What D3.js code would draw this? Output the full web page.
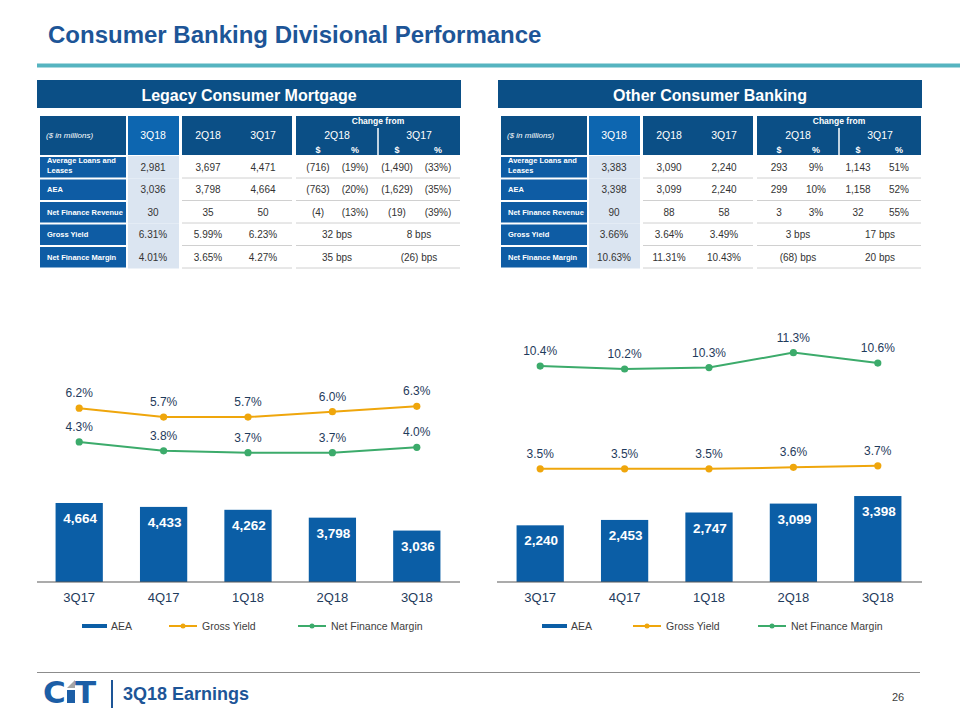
<!DOCTYPE html>
<html>
<head>
<meta charset="utf-8">
<script src="https://cdn.jsdelivr.net/npm/d3@7"></script>
<style>
  body { margin: 0; background: #fff; }
  svg { display: block; font-family: "Liberation Sans", Arial, sans-serif; }
</style>
</head>
<body>
<svg id="chart" width="960" height="720"></svg>
<script>
// ---------- DATA ----------
const quarters = ["3Q17", "4Q17", "1Q18", "2Q18", "3Q18"];

const lcmAEA = [4664, 4433, 4262, 3798, 3036];
const lcmGrossYield = [6.2, 5.7, 5.7, 6.0, 6.3];
const lcmNFM = [4.3, 3.8, 3.7, 3.7, 4.0];

const ocbAEA = [2240, 2453, 2747, 3099, 3398];
const ocbGrossYield = [3.5, 3.5, 3.5, 3.6, 3.7];
const ocbNFM = [10.4, 10.2, 10.3, 11.3, 10.6];

const tableHeaders = ["3Q18", "2Q18", "3Q17"];
const changeHeaders = ["2Q18", "3Q17"];
const tableRowLabels = [["Average Loans and", "Leases"], ["AEA"], ["Net Finance Revenue"], ["Gross Yield"], ["Net Finance Margin"]];

const lcmTable = [
  ["2,981", "3,697", "4,471", "(716)", "(19%)", "(1,490)", "(33%)"],
  ["3,036", "3,798", "4,664", "(763)", "(20%)", "(1,629)", "(35%)"],
  ["30", "35", "50", "(4)", "(13%)", "(19)", "(39%)"],
  ["6.31%", "5.99%", "6.23%", "32 bps", "8 bps"],
  ["4.01%", "3.65%", "4.27%", "35 bps", "(26) bps"]
];
const ocbTable = [
  ["3,383", "3,090", "2,240", "293", "9%", "1,143", "51%"],
  ["3,398", "3,099", "2,240", "299", "10%", "1,158", "52%"],
  ["90", "88", "58", "3", "3%", "32", "55%"],
  ["3.66%", "3.64%", "3.49%", "3 bps", "17 bps"],
  ["10.63%", "11.31%", "10.43%", "(68) bps", "20 bps"]
];

// ---------- STYLE ----------
const C = {
  title: "#1d5597",
  teal: "#56b4c0",
  banner: "#0b4f86",
  header: "#0b4f86",
  header3Q18: "#0d66b0",
  rowLabel: "#0e5ca4",
  lightCol: "#dbe5f1",
  rule: "#d0d0d0",
  cellText: "#333333",
  bar: "#0b5ea6",
  gy: "#efa60c",
  nfm: "#3cab6b",
  axisText: "#1f3b5c",
  axis: "#595959",
  legendText: "#404040"
};

const svg = d3.select("#chart");
svg.append("rect").attr("width", 960).attr("height", 720).attr("fill", "#fff");

// Title and teal rule
svg.append("text").attr("x", 48).attr("y", 43)
  .attr("font-size", 24).attr("font-weight", "bold").attr("fill", C.title)
  .text("Consumer Banking Divisional Performance");
svg.append("rect").attr("x", 37).attr("y", 63.5).attr("width", 923).attr("height", 4).attr("fill", C.teal);

// ---------- TABLES ----------
function drawTable(ox, title, rows) {
  const g = svg.append("g").attr("transform", `translate(${ox},0)`);
  g.append("rect").attr("x", 37).attr("y", 80).attr("width", 424).attr("height", 28).attr("fill", C.banner);
  g.append("text").attr("x", 249).attr("y", 101).attr("text-anchor", "middle")
    .attr("font-size", 16).attr("font-weight", "bold").attr("fill", "#fff").text(title);

  // header blocks
  g.append("rect").attr("x", 40).attr("y", 116).attr("width", 86).attr("height", 39).attr("fill", C.header);
  g.append("rect").attr("x", 128).attr("y", 116).attr("width", 51).attr("height", 39).attr("fill", C.header3Q18);
  g.append("rect").attr("x", 182).attr("y", 116).attr("width", 110).attr("height", 39).attr("fill", C.header);
  g.append("rect").attr("x", 296).attr("y", 116).attr("width", 164).attr("height", 39).attr("fill", C.header);
  g.append("line").attr("x1", 378).attr("x2", 378).attr("y1", 128).attr("y2", 155)
    .attr("stroke", "#fff").attr("stroke-width", 1.5);

  g.append("text").attr("x", 46).attr("y", 138).attr("font-size", 8).attr("font-style", "italic")
    .attr("fill", "#fff").text("($ in millions)");
  const hx = [153, 208, 263];
  tableHeaders.forEach((h, i) => g.append("text").attr("x", hx[i]).attr("y", 139)
    .attr("text-anchor", "middle").attr("font-size", 10.5).attr("fill", "#fff").text(h));
  g.append("text").attr("x", 378).attr("y", 124).attr("text-anchor", "middle")
    .attr("font-size", 8.5).attr("font-weight", "bold").attr("fill", "#fff").text("Change from");
  const chx = [337, 419];
  changeHeaders.forEach((h, i) => g.append("text").attr("x", chx[i]).attr("y", 139)
    .attr("text-anchor", "middle").attr("font-size", 10.5).attr("fill", "#fff").text(h));
  [[318, "$"], [355, "%"], [397, "$"], [438, "%"]].forEach(([x, t]) =>
    g.append("text").attr("x", x).attr("y", 153).attr("text-anchor", "middle")
      .attr("font-size", 9).attr("font-weight", "bold").attr("fill", "#fff").text(t));

  const colX = [153, 208, 263, 318, 355, 397, 438];
  const bpsX = [153, 208, 263, 337, 419];
  rows.forEach((r, i) => {
    const top = 157 + i * 22.5, h = 20.5, cy = top + h / 2;
    g.append("rect").attr("x", 40).attr("y", top).attr("width", 86).attr("height", h).attr("fill", C.rowLabel);
    g.append("rect").attr("x", 128).attr("y", top - 1).attr("width", 51).attr("height", h + 2).attr("fill", C.lightCol);
    [[182, 292], [296, 460]].forEach(([a, b]) =>
      g.append("line").attr("x1", a).attr("x2", b).attr("y1", top + h + 0.5).attr("y2", top + h + 0.5)
        .attr("stroke", C.rule).attr("stroke-width", 1));
    const lbl = tableRowLabels[i];
    lbl.forEach((l, j) => g.append("text").attr("x", 47)
      .attr("y", lbl.length === 1 ? cy + 2.5 : cy - 2.5 + (j * 10) - 2)
      .attr("font-size", 7.5).attr("font-weight", "bold").attr("fill", "#fff").text(l));
    const xs = r.length === 7 ? colX : bpsX;
    r.forEach((v, k) => g.append("text").attr("x", xs[k]).attr("y", cy + 3.5)
      .attr("text-anchor", "middle").attr("font-size", 10).attr("fill", C.cellText).text(v));
  });
}
drawTable(0, "Legacy Consumer Mortgage", lcmTable);
drawTable(461, "Other Consumer Banking", ocbTable);

// ---------- CHARTS ----------
function drawChart(cfg) {
  const g = svg.append("g");
  const x = d3.scaleBand().domain(quarters).range(cfg.xRange).paddingInner(0.44).paddingOuter(0.22);
  const yBar = d3.scaleLinear().domain(cfg.barDomain).range([582, cfg.barTop]);
  const yLine = d3.scaleLinear().domain(cfg.lineDomain).range(cfg.lineRange);
  const cx = q => x(q) + x.bandwidth() / 2;

  // bars
  g.selectAll(".bar").data(cfg.bars).join("rect")
    .attr("x", (d, i) => x(quarters[i])).attr("width", x.bandwidth())
    .attr("y", d => yBar(d)).attr("height", d => yBar(0) - yBar(d)).attr("fill", C.bar);
  g.selectAll(".barlbl").data(cfg.bars).join("text")
    .attr("x", (d, i) => cx(quarters[i]) + 1).attr("y", d => yBar(d) + 20)
    .attr("text-anchor", "middle").attr("font-size", 13.5).attr("font-weight", "bold")
    .attr("fill", "#fff").text(d => d3.format(",")(d));

  // axis
  const axis = d3.axisBottom(x).tickSize(0).tickPadding(11);
  const ag = g.append("g").attr("transform", "translate(0,582)").call(axis);
  ag.select(".domain").attr("stroke", C.axis).attr("stroke-width", 1.2)
    .attr("d", `M${cfg.axisRange[0]},0H${cfg.axisRange[1]}`);
  ag.selectAll("text").attr("font-size", 13).attr("fill", C.axisText)
    .attr("font-family", "Liberation Sans, Arial, sans-serif");

  // lines
  [[cfg.gy, C.gy], [cfg.nfm, C.nfm]].forEach(([vals, col]) => {
    const line = d3.line().x((d, i) => cx(quarters[i])).y(d => yLine(d));
    g.append("path").datum(vals).attr("d", line).attr("fill", "none")
      .attr("stroke", col).attr("stroke-width", 2);
    g.selectAll(null).data(vals).join("circle")
      .attr("cx", (d, i) => cx(quarters[i])).attr("cy", d => yLine(d)).attr("r", 3.6).attr("fill", col);
    g.selectAll(null).data(vals).join("text")
      .attr("x", (d, i) => cx(quarters[i])).attr("y", d => yLine(d) - 11)
      .attr("text-anchor", "middle").attr("font-size", 12).attr("fill", C.axisText)
      .text(d => d3.format(".1f")(d) + "%");
  });

  // legend
  const ly = 626;
  const L = cfg.legendX;
  g.append("rect").attr("x", L[0]).attr("y", ly - 2).attr("width", 25).attr("height", 4).attr("fill", C.bar);
  g.append("text").attr("x", L[0] + 29).attr("y", ly + 4).attr("font-size", 10.5).attr("fill", C.legendText).text("AEA");
  [[L[1], C.gy, "Gross Yield"], [L[2], C.nfm, "Net Finance Margin"]].forEach(([lx, col, t]) => {
    g.append("line").attr("x1", lx).attr("x2", lx + 28).attr("y1", ly).attr("y2", ly)
      .attr("stroke", col).attr("stroke-width", 2);
    g.append("circle").attr("cx", lx + 14).attr("cy", ly).attr("r", 2.5).attr("fill", col);
    g.append("text").attr("x", lx + 33).attr("y", ly + 4).attr("font-size", 10.5).attr("fill", C.legendText).text(t);
  });
}

drawChart({
  xRange: [37, 459], axisRange: [37, 460],
  bars: lcmAEA, barDomain: [0, 5000], barTop: 582 - 84.7,
  gy: lcmGrossYield, nfm: lcmNFM,
  lineDomain: [0, 7], lineRange: [518.5, 393.9],
  legendX: [82, 169, 298]
});
drawChart({
  xRange: [498, 920], axisRange: [497, 922],
  bars: ocbAEA, barDomain: [0, 4000], barTop: 582 - 101.2,
  gy: ocbGrossYield, nfm: ocbNFM,
  lineDomain: [0, 12], lineRange: [521, 342.2],
  legendX: [542, 633, 758]
});

// ---------- FOOTER ----------
svg.append("line").attr("x1", 37).attr("x2", 920).attr("y1", 672.5).attr("y2", 672.5)
  .attr("stroke", "#8c8c8c").attr("stroke-width", 1);
const logo = svg.append("g");
logo.append("text").attr("x", 43).attr("y", 703).attr("font-family", "DejaVu Sans")
  .attr("font-size", 31).attr("font-weight", "bold").attr("fill", "#1c5ea6").text("C");
logo.append("rect").attr("x", 67).attr("y", 690).attr("width", 8).attr("height", 13).attr("fill", "#1c5ea6");
logo.append("polygon").attr("points", "67,688 75,680 75,688").attr("fill", "#a6a6a6");
logo.append("text").attr("x", 75).attr("y", 703).attr("font-family", "DejaVu Sans")
  .attr("font-size", 31).attr("font-weight", "bold").attr("fill", "#1c5ea6").text("T");
svg.append("rect").attr("x", 111).attr("y", 680).attr("width", 2).attr("height", 28).attr("fill", "#1d5597");
svg.append("text").attr("x", 123).attr("y", 700).attr("font-size", 18).attr("font-weight", "bold")
  .attr("fill", "#1d5597").text("3Q18 Earnings");
svg.append("text").attr("x", 898).attr("y", 701).attr("text-anchor", "middle")
  .attr("font-size", 11).attr("fill", "#404040").text("26");
</script>
</body>
</html>
